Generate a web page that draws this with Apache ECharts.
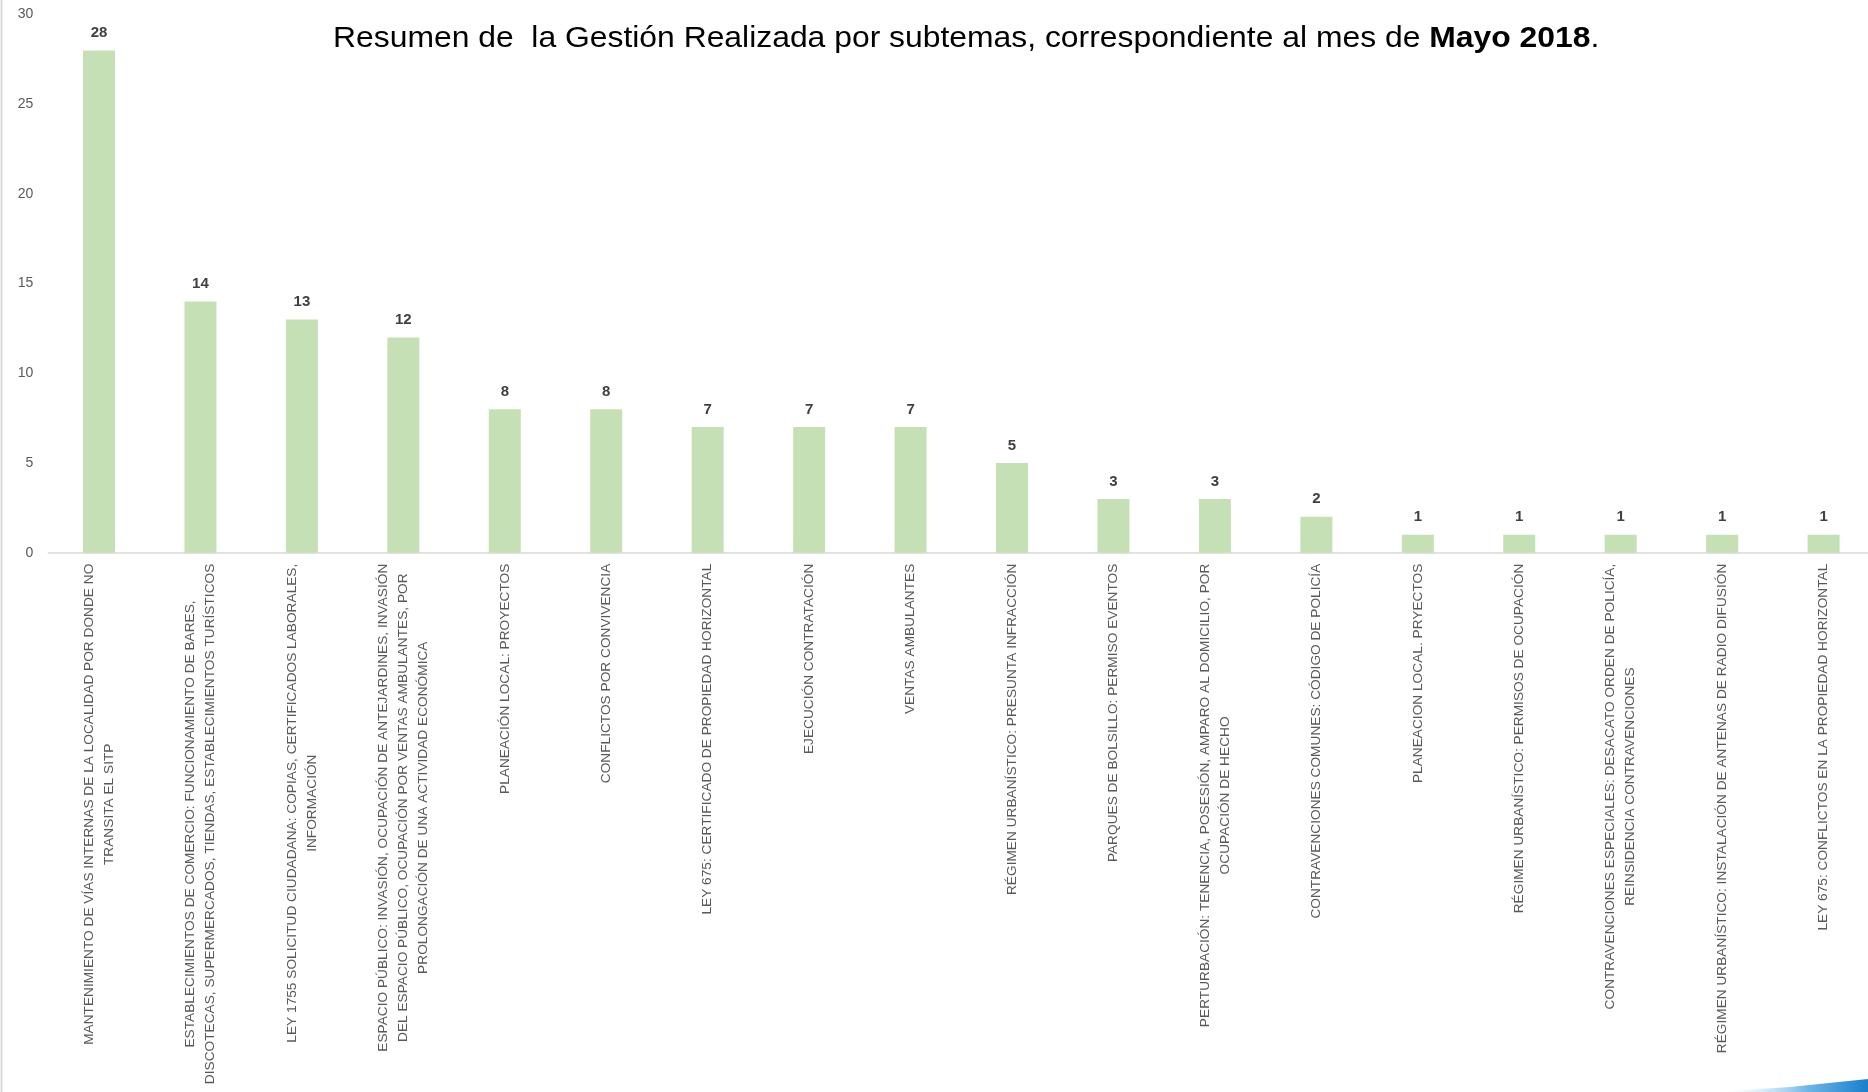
<!DOCTYPE html>
<html>
<head>
<meta charset="utf-8">
<script src="https://cdn.jsdelivr.net/npm/echarts@6/dist/echarts.min.js"></script>
<style>
html,body{margin:0;padding:0;background:#fff;}
#chart{width:1868px;height:1092px;}
</style>
</head>
<body>
<div id="chart"></div>
<script>
const categories = [
  'MANTENIMIENTO DE VÍAS INTERNAS DE LA LOCALIDAD POR DONDE NO\nTRANSITA EL SITP',
  'ESTABLECIMIENTOS DE COMERCIO: FUNCIONAMIENTO DE BARES,\nDISCOTECAS, SUPERMERCADOS, TIENDAS, ESTABLECIMIENTOS TURÍSTICOS',
  'LEY 1755 SOLICITUD CIUDADANA: COPIAS, CERTIFICADOS LABORALES,\nINFORMACIÓN',
  'ESPACIO PÚBLICO: INVASIÓN, OCUPACIÓN DE ANTEJARDINES, INVASIÓN\nDEL ESPACIO PÚBLICO, OCUPACIÓN POR VENTAS AMBULANTES, POR\nPROLONGACIÓN DE UNA ACTIVIDAD ECONÓMICA',
  'PLANEACIÓN LOCAL: PROYECTOS',
  'CONFLICTOS POR CONVIVENCIA',
  'LEY 675: CERTIFICADO DE PROPIEDAD HORIZONTAL',
  'EJECUCIÓN CONTRATACIÓN',
  'VENTAS AMBULANTES',
  'RÉGIMEN URBANÍSTICO: PRESUNTA INFRACCIÓN',
  'PARQUES DE BOLSILLO: PERMISO EVENTOS',
  'PERTURBACIÓN: TENENCIA, POSESIÓN, AMPARO AL DOMICILIO, POR\nOCUPACIÓN DE HECHO',
  'CONTRAVENCIONES COMUNES: CÓDIGO DE POLICÍA',
  'PLANEACION LOCAL. PRYECTOS',
  'RÉGIMEN URBANÍSTICO: PERMISOS DE OCUPACIÓN',
  'CONTRAVENCIONES ESPECIALES: DESACATO ORDEN DE POLICÍA,\nREINSIDENCIA CONTRAVENCIONES',
  'RÉGIMEN URBANÍSTICO: INSTALACIÓN DE ANTENAS DE RADIO DIFUSIÓN',
  'LEY 675: CONFLICTOS EN LA PROPIEDAD HORIZONTAL'
];
const values = [28, 14, 13, 12, 8, 8, 7, 7, 7, 5, 3, 3, 2, 1, 1, 1, 1, 1];
const yMin = 0;
const yMax = 30;
const yInterval = 5;
const titleMain = 'Resumen de  la Gestión Realizada por subtemas, correspondiente al mes de ';
const titleBold = 'Mayo 2018';
const titleEnd = '.';

const chart = echarts.init(document.getElementById('chart'), null, {renderer: 'canvas'});
const FONT = "'Liberation Sans', Arial, sans-serif";

chart.setOption({
  animation: false,
  backgroundColor: '#ffffff',
  grid: {left: 48.3, width: 1826, top: 14.5, bottom: 539.3, containLabel: false, outerBoundsMode: 'none'},
  xAxis: {
    type: 'category',
    data: categories,
    axisTick: {show: false},
    axisLine: {lineStyle: {color: '#d9d9d9', width: 1.5}},
    axisLabel: {
      interval: 0,
      rotate: 90,
      margin: 11,
      formatter: function (v) {
        return v.split('\n').map(function (s) { return '{c|' + s + '}'; }).join('\n');
      },
      rich: {
        c: {align: 'center', fontSize: 13.7, lineHeight: 20, color: '#595959', fontFamily: FONT}
      }
    }
  },
  yAxis: {
    type: 'value',
    min: yMin, max: yMax, interval: yInterval,
    splitLine: {show: false},
    axisLine: {show: false},
    axisTick: {show: false},
    axisLabel: {margin: 15, color: '#595959', fontSize: 14, fontFamily: FONT}
  },
  series: [{
    type: 'bar',
    data: values,
    barWidth: 32,
    itemStyle: {color: '#c5e0b4'},
    label: {
      show: true, position: 'top', distance: 10,
      fontWeight: 'bold', fontSize: 15, color: '#404040', fontFamily: FONT
    }
  }],
  graphic: [
    {type: 'line', shape: {x1: 1.5, y1: 0, x2: 1.5, y2: 1092}, style: {stroke: '#d9d9d9', lineWidth: 2}, silent: true},
    {
      type: 'text', x: 333, y: 39, scaleX: 1.08,
      style: {
        text: '{n|' + titleMain + '}{b|' + titleBold + '}{n|' + titleEnd + '}',
        verticalAlign: 'middle', align: 'left',
        rich: {
          n: {fontSize: 29.5, fontFamily: FONT, color: '#000000'},
          b: {fontSize: 29.5, fontFamily: FONT, fontWeight: 'bold', color: '#000000'}
        }
      }
    },
    {
      type: 'polygon',
      shape: {points: [[1715, 1092], [1790, 1087], [1868, 1079], [1868, 1092]]},
      style: {
        fill: new echarts.graphic.LinearGradient(0, 0, 1, 0, [
          {offset: 0, color: 'rgba(255,255,255,0)'},
          {offset: 0.6, color: '#6fb6e6'},
          {offset: 1, color: '#1a7fcc'}
        ])
      },
      silent: true
    }
  ]
});
</script>
</body>
</html>
